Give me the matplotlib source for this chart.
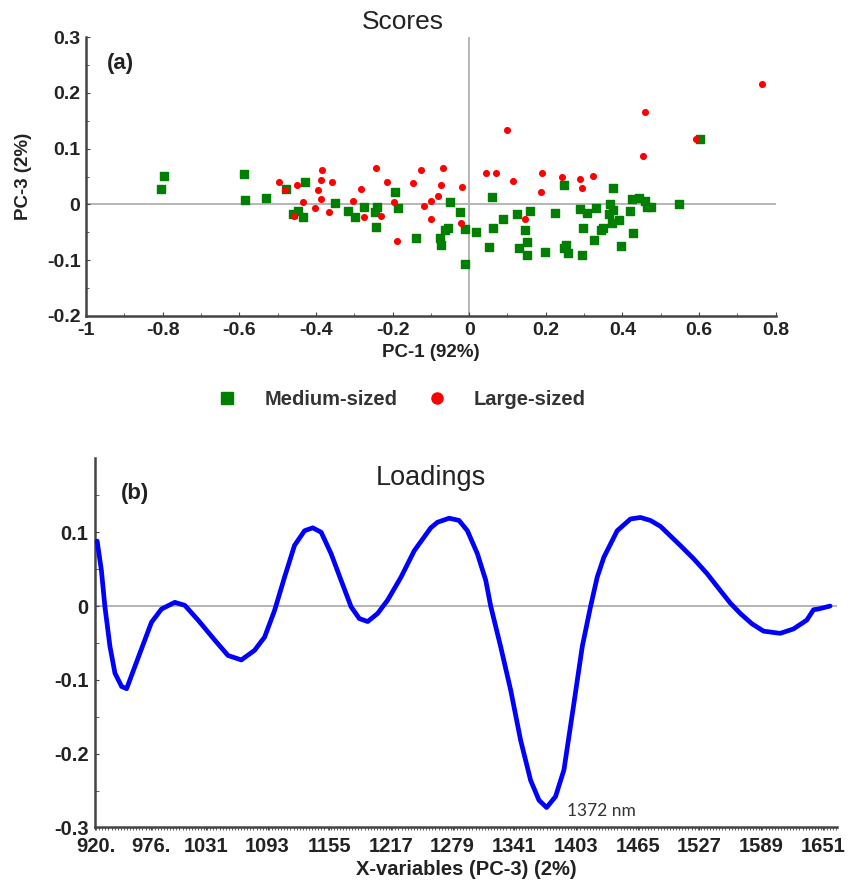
import matplotlib
matplotlib.use("Agg")
import matplotlib.pyplot as plt
from matplotlib.ticker import MultipleLocator, FixedLocator
from matplotlib.lines import Line2D

plt.rcParams['font.family'] = ['Liberation Sans', 'DejaVu Sans']

# scores (PC-1, PC-3)
medium_x = [-0.805, -0.796, -0.587, -0.584, -0.530, -0.477, -0.429, -0.459, -0.448, -0.433,
            -0.350, -0.315, -0.299, -0.274, -0.246, -0.241, -0.242, -0.193, -0.186, -0.138,
            -0.076, -0.074, -0.064, -0.055, -0.050, -0.023, -0.012, -0.012, 0.018, 0.060,
            0.063, 0.052, 0.089, 0.126, 0.131, 0.146, 0.151, 0.151, 0.160, 0.199,
            0.224, 0.247, 0.247, 0.253, 0.259, 0.288, 0.296, 0.294, 0.308, 0.326,
            0.331, 0.344, 0.350, 0.368, 0.366, 0.376, 0.376, 0.373, 0.391, 0.396,
            0.421, 0.424, 0.427, 0.442, 0.460, 0.463, 0.475, 0.548, 0.602]
medium_y = [0.027, 0.051, 0.054, 0.008, 0.011, 0.028, 0.040, -0.017, -0.012, -0.023,
            0.002, -0.011, -0.023, -0.005, -0.014, -0.005, -0.040, 0.022, -0.006, -0.060,
            -0.060, -0.072, -0.045, -0.043, 0.005, -0.014, -0.044, -0.107, -0.050, 0.014,
            -0.043, -0.077, -0.026, -0.017, -0.079, -0.046, -0.067, -0.090, -0.011, -0.086,
            -0.016, 0.034, -0.079, -0.073, -0.088, -0.008, -0.043, -0.091, -0.016, -0.064,
            -0.007, -0.045, -0.042, 0.001, -0.018, -0.010, 0.030, -0.033, -0.028, -0.074,
            -0.011, 0.009, -0.051, 0.011, 0.007, -0.004, -0.004, 0.001, 0.117]

large_x = [-0.497, -0.480, -0.449, -0.456, -0.433, -0.403, -0.394, -0.387, -0.383, -0.387,
           -0.357, -0.365, -0.302, -0.283, -0.274, -0.243, -0.229, -0.214, -0.196, -0.188,
           -0.147, -0.125, -0.117, -0.099, -0.099, -0.082, -0.074, -0.069, -0.019, -0.021,
           0.045, 0.069, 0.100, 0.114, 0.146, 0.189, 0.187, 0.243, 0.290, 0.295,
           0.323, 0.454, 0.460, 0.593, 0.764]
large_y = [0.040, 0.025, 0.034, -0.020, 0.005, -0.007, 0.025, 0.043, 0.062, 0.009,
           0.040, -0.013, 0.007, 0.028, -0.023, 0.066, -0.021, 0.040, 0.004, -0.065,
           0.039, 0.062, -0.002, -0.027, 0.007, 0.015, 0.034, 0.066, 0.032, -0.033,
           0.057, 0.057, 0.134, 0.042, -0.027, 0.057, 0.022, 0.049, 0.045, 0.030,
           0.051, 0.086, 0.166, 0.117, 0.216]

# loadings of PC-3 against wavelength (nm)
wavelength = [921.7, 926, 929.5, 934.6, 939.6, 946.3, 951.3, 959.6, 969.6, 976.3,
              986.4, 999.7, 1009.8, 1023.1, 1039.8, 1053.2, 1066.6, 1079.9, 1090, 1100,
              1110, 1120, 1130.1, 1138.4, 1146.8, 1156.8, 1166.8, 1176.9, 1185.2, 1193.6,
              1203.6, 1213.6, 1227, 1240.4, 1257, 1263.7, 1275.4, 1285.4, 1293.8, 1303.8,
              1312.2, 1317.2, 1327.2, 1337.3, 1347.3, 1357.3, 1365.7, 1373.4, 1382.4, 1390.8,
              1400.8, 1409.2, 1417.5, 1424.2, 1430.9, 1444.3, 1457.7, 1467.7, 1477.7, 1487.8,
              1497.8, 1507.8, 1521.2, 1534.6, 1548, 1558, 1568, 1579.7, 1591.4, 1608.1,
              1621.5, 1634.9, 1641.6, 1646.6, 1658.3]
loading = [0.088, 0.048, -0.001, -0.055, -0.091, -0.109, -0.112, -0.082, -0.046, -0.022,
           -0.004, 0.005, 0.001, -0.019, -0.046, -0.067, -0.073, -0.060, -0.042, -0.006,
           0.039, 0.082, 0.102, 0.106, 0.100, 0.071, 0.035, -0.001, -0.017, -0.021,
           -0.010, 0.008, 0.039, 0.075, 0.106, 0.1135, 0.119, 0.116, 0.102, 0.071,
           0.035, 0.0, -0.055, -0.114, -0.182, -0.236, -0.263, -0.273, -0.258, -0.222,
           -0.132, -0.055, -0.001, 0.039, 0.066, 0.102, 0.118, 0.120, 0.116, 0.108,
           0.095, 0.082, 0.064, 0.044, 0.021, 0.004, -0.010, -0.024, -0.034, -0.037,
           -0.031, -0.019, -0.005, -0.004, 0.0]

wl_ticks = [920, 976, 1031, 1093, 1155, 1217, 1279, 1341, 1403, 1465, 1527, 1589, 1651]
wl_labels = ["920.", "976.", "1031", "1093", "1155", "1217", "1279", "1341", "1403",
             "1465", "1527", "1589", "1651"]

spine_col = "#444444"
zero_col = "#b0b0b0"
text_col = "#222222"


def style_axes(ax):
    for side in ("top", "right"):
        ax.spines[side].set_visible(False)
    for side in ("left", "bottom"):
        ax.spines[side].set_color(spine_col)
        ax.spines[side].set_linewidth(1.8)
    for lab in ax.get_xticklabels() + ax.get_yticklabels():
        lab.set_fontweight("bold")
        lab.set_color(text_col)


fig = plt.figure(figsize=(8.6, 8.85), dpi=100)

# (a) scores
ax1 = fig.add_axes([0.1, 0.643, 0.802, 0.315])
ax1.axhline(0, color=zero_col, lw=1.3, zorder=1)
ax1.axvline(0, color=zero_col, lw=1.3, zorder=1)
ax1.scatter(medium_x, medium_y, marker="s", s=26, color="#007f00", zorder=3)
ax1.scatter(large_x, large_y, marker="o", s=26, color="#ff0000", linewidths=0, zorder=3)
ax1.set_xticks([-1, -0.8, -0.6, -0.4, -0.2, 0, 0.2, 0.4, 0.6, 0.8])
ax1.set_xticklabels(["-1", "-0.8", "-0.6", "-0.4", "-0.2", "0", "0.2", "0.4", "0.6", "0.8"])
ax1.xaxis.set_minor_locator(MultipleLocator(0.1))
ax1.set_yticks([-0.2, -0.1, 0, 0.1, 0.2, 0.3])
ax1.set_yticklabels(["-0.2", "-0.1", "0", "0.1", "0.2", "0.3"])
ax1.yaxis.set_minor_locator(MultipleLocator(0.05))
ax1.set_xlim(-1, 0.8)
ax1.set_ylim(-0.2, 0.3)
ax1.tick_params(which="both", direction="in", color=spine_col, labelsize=14, pad=4)
ax1.tick_params(which="major", length=3)
ax1.tick_params(which="minor", length=2)
style_axes(ax1)
ax1.set_xlabel("PC-1 (92%)", fontsize=13.5, fontweight="bold", labelpad=4, color=text_col)
ax1.set_ylabel("PC-3 (2%)", fontsize=13.5, fontweight="bold", labelpad=11, color=text_col)
ax1.text(0.03, 0.885, "(a)", transform=ax1.transAxes, fontsize=16, fontweight="bold",
         color=text_col)
fig.text(403 / 860, 1 - 22 / 885, "Scores", fontsize=19, ha="center", va="center",
         color=text_col)

handles = [Line2D([], [], marker="s", ls="", color="#007f00", markersize=8),
           Line2D([], [], marker="o", ls="", color="#ff0000", markersize=8)]
leg = fig.legend(handles, ["Medium-sized", "Large-sized"], loc="center",
                 bbox_to_anchor=(0.461, 0.549), ncol=2, frameon=False,
                 prop={"size": 14.5, "weight": "bold"}, handletextpad=0.85,
                 columnspacing=0.95)
for t in leg.get_texts():
    t.set_color("#333333")

# (b) loadings
ax2 = fig.add_axes([0.111, 0.065, 0.862, 0.417])
ax2.axhline(0, color=zero_col, lw=1.3, zorder=1)
ax2.plot(wavelength, loading, color="#0000ff", lw=3.4, solid_joinstyle="round",
         solid_capstyle="round", zorder=3)
ax2.set_xticks(wl_ticks)
ax2.set_xticklabels(wl_labels)
ax2.xaxis.set_minor_locator(MultipleLocator(3.1))
ax2.set_yticks([-0.3, -0.2, -0.1, 0, 0.1])
ax2.set_yticklabels(["-0.3", "-0.2", "-0.1", "0", "0.1"])
ax2.yaxis.set_minor_locator(FixedLocator([-0.25, -0.15, -0.05, 0.05, 0.15]))
ax2.set_xlim(920, 1665)
ax2.set_ylim(-0.3, 0.2)
ax2.tick_params(which="both", color=spine_col, labelsize=14.5)
ax2.tick_params(axis="x", which="both", direction="out", length=2.5, pad=4)
ax2.tick_params(axis="y", which="both", direction="in", length=3, pad=5)
style_axes(ax2)
ax2.set_xlabel("X-variables (PC-3) (2%)", fontsize=14.5, fontweight="bold", labelpad=3,
               color=text_col)
ax2.text(0.034, 0.89, "(b)", transform=ax2.transAxes, fontsize=16, fontweight="bold",
         color=text_col)
fig.text(431 / 860, 1 - 478 / 885, "Loadings", fontsize=19.5, ha="center", va="center",
         color=text_col)
ax2.text(1394, -0.285, "1372 nm", fontsize=12.5, family=["Lato", "DejaVu Sans"],
         color="#333333")

fig.savefig("out.png", dpi=100)
